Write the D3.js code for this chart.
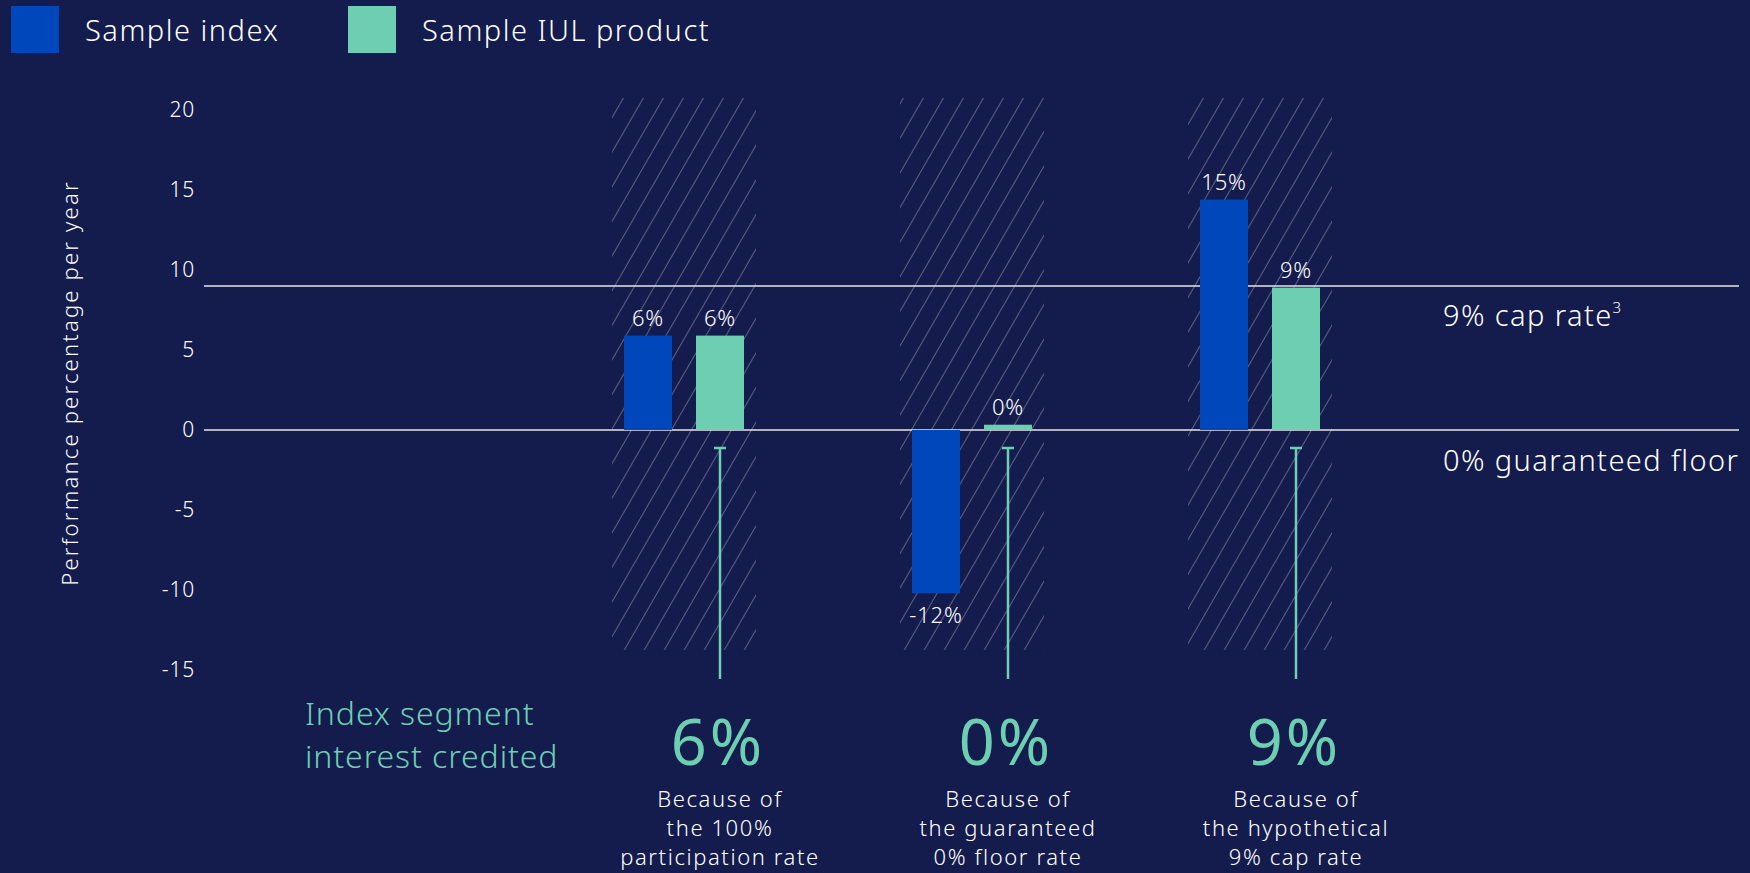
<!DOCTYPE html>
<html>
<head>
<meta charset="utf-8">
<script src="https://cdn.jsdelivr.net/npm/d3@7"></script>
<style>
  html, body { margin: 0; padding: 0; background: #141b4d; }
  svg { display: block; font-family: "Noto Sans", "Open Sans", sans-serif; }
</style>
</head>
<body>
<svg id="chart" width="1750" height="873"></svg>
<script>
// Chart values.
var groups = ['participation', 'floor', 'cap'];
var series = ['Sample index', 'Sample IUL product'];
var indexValues = [5.9, -10.2, 14.4];
var iulValues = [5.9, 0.33, 8.9];
var indexLabels = ['6%', '-12%', '15%'];
var iulLabels = ['6%', '0%', '9%'];
var creditedLabels = ['6%', '0%', '9%'];
var reasonLines = [
  ['Because of', 'the 100%', 'participation rate'],
  ['Because of', 'the guaranteed', '0% floor rate'],
  ['Because of', 'the hypothetical', '9% cap rate']
];
var yTicks = [20, 15, 10, 5, 0, -5, -10, -15];
var capRate = 9;
var floorRate = 0;

var colors = { bg: '#141b4d', index: '#0047bb', iul: '#6dceb2', text: '#ffffff' };

var svg = d3.select('#chart');

svg.append('rect')
  .attr('width', 1750).attr('height', 873)
  .attr('fill', colors.bg);

// Scales.
var y = d3.scaleLinear().domain([-15, 20]).range([670, 110]);
var x = d3.scalePoint().domain(groups).range([684, 1260]);
var xs = d3.scalePoint().domain(series).range([-36, 36]);
var barWidth = 48;
var hatchWidth = 144;

// Diagonal hatch pattern for the group backgrounds.
var defs = svg.append('defs');
var pattern = defs.append('pattern')
  .attr('id', 'hatch')
  .attr('patternUnits', 'userSpaceOnUse')
  .attr('width', 20)
  .attr('height', 34.6);
[-20, 0, 20].forEach(function(dx) {
  pattern.append('line')
    .attr('x1', dx).attr('y1', 34.6)
    .attr('x2', dx + 20).attr('y2', 0)
    .attr('stroke', 'rgba(255,255,255,0.32)')
    .attr('stroke-width', 1);
});

svg.append('g').selectAll('rect')
  .data(groups)
  .enter().append('rect')
    .attr('x', function(d) { return x(d) - hatchWidth / 2; })
    .attr('y', y(20.75))
    .attr('width', hatchWidth)
    .attr('height', y(-13.75) - y(20.75))
    .attr('fill', 'url(#hatch)');

// Legend.
var legend = svg.append('g');
var legendX = [11, 348];
series.forEach(function(s, i) {
  legend.append('rect')
    .attr('x', legendX[i]).attr('y', 6)
    .attr('width', 48).attr('height', 47)
    .attr('fill', i == 0 ? colors.index : colors.iul);
  legend.append('text')
    .attr('x', legendX[i] + 74).attr('y', 41)
    .attr('fill', colors.text)
    .attr('font-size', 29)
    .attr('letter-spacing', 1.5)
    .attr('font-weight', 300)
    .text(s);
});

// Y axis tick labels.
svg.append('g')
  .attr('transform', 'translate(195,0)')
  .call(d3.axisLeft(y).tickValues(yTicks).tickSize(0).tickPadding(0)
    .tickFormat(function(d) { return String(d); }))
  .call(function(g) { g.select('.domain').remove(); })
  .selectAll('text')
    .attr('fill', colors.text)
    .attr('font-size', 21)
    .attr('letter-spacing', 0.8)
    .attr('font-family', '"Noto Sans", sans-serif')
    .attr('font-weight', 300);

svg.append('text')
  .attr('transform', 'translate(78,383) rotate(-90)')
  .attr('text-anchor', 'middle')
  .attr('fill', colors.text)
  .attr('font-size', 22)
  .attr('letter-spacing', 2.2)
  .attr('font-weight', 300)
  .text('Performance percentage per year');

// Cap and floor reference lines.
[capRate, floorRate].forEach(function(v) {
  svg.append('line')
    .attr('x1', 204).attr('x2', 1739)
    .attr('y1', y(v)).attr('y2', y(v))
    .attr('stroke', '#e6e6ee')
    .attr('stroke-width', 1.5);
});

var capLabel = svg.append('text')
  .attr('x', 1443).attr('y', y(capRate) + 40)
  .attr('fill', colors.text)
  .attr('font-size', 29)
  .attr('letter-spacing', 1.4)
  .attr('font-weight', 300)
  .text('9% cap rate');
capLabel.append('tspan')
  .attr('dy', -13)
  .attr('font-size', 15)
  .text('3');

svg.append('text')
  .attr('x', 1443).attr('y', y(floorRate) + 41)
  .attr('fill', colors.text)
  .attr('font-size', 29)
  .attr('letter-spacing', 1.4)
  .attr('font-weight', 300)
  .text('0% guaranteed floor');

// Bars.
function drawBars(values, labels, name, color) {
  var g = svg.append('g');
  g.selectAll('rect')
    .data(values)
    .enter().append('rect')
      .attr('x', function(d, i) { return x(groups[i]) + xs(name) - barWidth / 2; })
      .attr('y', function(d) { return y(Math.max(0, d)); })
      .attr('width', barWidth)
      .attr('height', function(d) { return Math.abs(y(d) - y(0)); })
      .attr('fill', color);
  g.selectAll('text')
    .data(values)
    .enter().append('text')
      .attr('x', function(d, i) { return x(groups[i]) + xs(name); })
      .attr('y', function(d) { return d >= 0 ? y(d) - 10 : y(d) + 30; })
      .attr('text-anchor', 'middle')
      .attr('fill', colors.text)
      .attr('font-size', 22)
      .attr('letter-spacing', 0.8)
      .attr('font-weight', 300)
      .text(function(d, i) { return labels[i]; });
}
drawBars(indexValues, indexLabels, series[0], colors.index);
drawBars(iulValues, iulLabels, series[1], colors.iul);

// Whiskers from the floor down to the credited figures.
var whiskers = svg.append('g')
  .attr('stroke', colors.iul)
  .attr('stroke-width', 2.5);
groups.forEach(function(gname) {
  var cx = x(gname) + xs(series[1]);
  whiskers.append('line')
    .attr('x1', cx).attr('x2', cx)
    .attr('y1', 448).attr('y2', 679);
  whiskers.append('line')
    .attr('x1', cx - 6).attr('x2', cx + 6)
    .attr('y1', 448).attr('y2', 448);
});

// Index segment interest credited.
var credited = svg.append('text')
  .attr('x', 305).attr('y', 725)
  .attr('fill', colors.iul)
  .attr('font-size', 32)
  .attr('letter-spacing', 0.9)
  .attr('font-weight', 300);
credited.append('tspan').attr('x', 305).text('Index segment');
credited.append('tspan').attr('x', 305).attr('dy', 43).text('interest credited');

svg.append('g').selectAll('text')
  .data(creditedLabels)
  .enter().append('text')
    .attr('x', function(d, i) { return x(groups[i]) + xs(series[1]) - 2; })
    .attr('y', 765)
    .attr('text-anchor', 'middle')
    .attr('fill', colors.iul)
    .attr('font-size', 63)
    .attr('letter-spacing', 3)
    .attr('font-weight', 400)
    .text(function(d) { return d; });

var reasons = svg.append('g');
reasonLines.forEach(function(lines, i) {
  var t = reasons.append('text')
    .attr('y', 807)
    .attr('text-anchor', 'middle')
    .attr('fill', colors.text)
    .attr('font-size', 22)
    .attr('letter-spacing', 1.6)
    .attr('font-weight', 300);
  lines.forEach(function(line, j) {
    t.append('tspan')
      .attr('x', x(groups[i]) + xs(series[1]))
      .attr('dy', j == 0 ? 0 : 29)
      .text(line);
  });
});
</script>
</body>
</html>
